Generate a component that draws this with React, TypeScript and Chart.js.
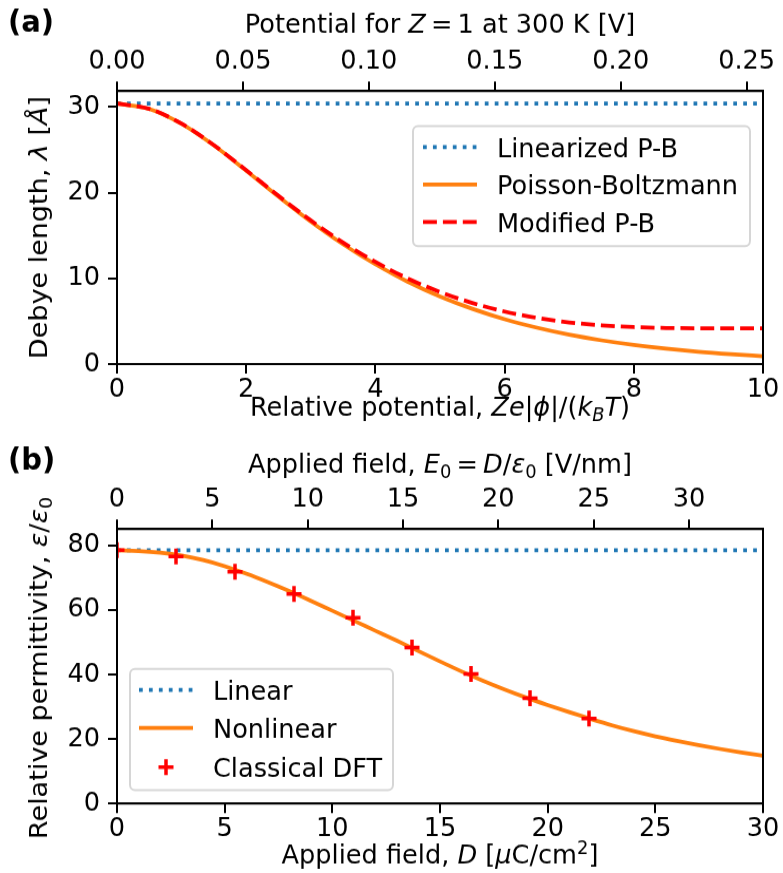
import React, { useEffect, useRef } from 'react';
import { Chart, registerables } from 'chart.js';

Chart.register(...registerables);

const FONT = "'DejaVu Sans'";
const FS = 25.6;

// ---------- Panel (a) data ----------
const PHI = [0, 0.5, 1, 1.5, 2, 2.5, 3, 3.5, 4, 4.5, 5, 5.5, 6, 6.5, 7, 7.5, 8, 8.5, 9, 9.5, 10];
const LAMBDA_PB = [30.4, 29.78, 28.04, 25.52, 22.57, 19.54, 16.63, 13.98, 11.64, 9.61, 7.89, 6.45, 5.24, 4.25, 3.43, 2.77, 2.23, 1.79, 1.43, 1.15, 0.92];
const LAMBDA_MPB = [30.4, 29.79, 28.06, 25.55, 22.63, 19.63, 16.77, 14.18, 11.92, 9.99, 8.41, 7.13, 6.13, 5.39, 4.86, 4.52, 4.31, 4.21, 4.17, 4.16, 4.17];
const PHI_LIN = [0, 10];
const LAMBDA_LIN = [30.4, 30.4];
const PHI_TICKS = [0, 2, 4, 6, 8, 10];
const LAMBDA_TICKS = [0, 10, 20, 30];
const VOLT_TICKS = [0, 0.05, 0.1, 0.15, 0.2, 0.25];
const PHI_MAX = 10;
const VOLT_MAX = 0.2565;
const LAMBDA_MAX = 31.87;

// ---------- Panel (b) data ----------
const D_FIELD = [0, 1, 2, 3, 4, 5, 6, 7, 8, 9, 10, 11, 12, 13, 14, 15, 16, 17, 18, 19, 20, 21, 22, 23, 24, 25, 26, 27, 28, 29, 30];
const EPS_NL = [78.4, 78.2, 77.7, 76.8, 75.4, 73.5, 71.2, 68.6, 65.8, 62.8, 59.7, 56.6, 53.5, 50.4, 47.2, 44.0, 40.9, 38.0, 35.3, 32.8, 30.5, 28.3, 26.2, 24.2, 22.4, 20.8, 19.4, 18.1, 16.9, 15.8, 14.8];
const D_LIN = [0, 30];
const EPS_LIN = [78.4, 78.4];
const D_DFT = [0, 2.74, 5.48, 8.22, 10.96, 13.7, 16.44, 19.18, 21.92];
const EPS_DFT = [78.5, 76.5, 71.8, 64.9, 57.5, 48.3, 40.1, 32.6, 26.3];
const D_TICKS = [0, 5, 10, 15, 20, 25, 30];
const EPS_TICKS = [0, 20, 40, 60, 80];
const E0_TICKS = [0, 5, 10, 15, 20, 25, 30];
const D_MAX = 30;
const E0_MAX = 33.88;
const EPS_MAX = 85;

const BLUE = '#1f77b4';
const ORANGE = '#ff7f0e';
const RED = '#ff0000';
const DOT = [3.75, 6.19];
const DASH = [13.9, 6];

type Seg = { t: string; it?: boolean; sub?: boolean; sup?: boolean };

const pts = (xs: number[], ys: number[]) => xs.map((x, i) => ({ x, y: ys[i] }));

function segFont(s: Seg, size: number) {
  const sz = s.sub || s.sup ? size * 0.7 : size;
  return `${s.it ? 'italic ' : ''}${sz}px ${FONT}`;
}

function drawRich(ctx: CanvasRenderingContext2D, segs: Seg[], x: number, y: number, size: number, rotate: boolean) {
  ctx.save();
  let total = 0;
  for (const s of segs) {
    ctx.font = segFont(s, size);
    total += ctx.measureText(s.t).width;
  }
  ctx.translate(x, y);
  if (rotate) ctx.rotate(-Math.PI / 2);
  ctx.textAlign = 'left';
  ctx.textBaseline = 'alphabetic';
  ctx.fillStyle = '#000';
  let cx = -total / 2;
  for (const s of segs) {
    ctx.font = segFont(s, size);
    const dy = s.sub ? size * 0.2 : s.sup ? -size * 0.38 : 0;
    ctx.fillText(s.t, cx, dy);
    cx += ctx.measureText(s.t).width;
  }
  ctx.restore();
}

type LegendRow = { label: string; kind: 'line' | 'cross'; color: string; dash?: number[] };
type LegendSpec = { x: number; y: number; w: number; h: number; hx0: number; hx1: number; tx: number; rowsY: number[]; rows: LegendRow[] };

function drawLegend(ctx: CanvasRenderingContext2D, L: LegendSpec, Y: (v: number) => number) {
  ctx.save();
  const r = 5;
  const top = Y(L.y);
  const bot = Y(L.y + L.h);
  const x0 = L.x;
  const x1 = L.x + L.w;
  ctx.beginPath();
  ctx.moveTo(x0 + r, top);
  ctx.lineTo(x1 - r, top);
  ctx.arcTo(x1, top, x1, top + r, r);
  ctx.lineTo(x1, bot - r);
  ctx.arcTo(x1, bot, x1 - r, bot, r);
  ctx.lineTo(x0 + r, bot);
  ctx.arcTo(x0, bot, x0, bot - r, r);
  ctx.lineTo(x0, top + r);
  ctx.arcTo(x0, top, x0 + r, top, r);
  ctx.closePath();
  ctx.fillStyle = 'rgba(255,255,255,0.8)';
  ctx.fill();
  ctx.setLineDash([]);
  ctx.lineWidth = 2;
  ctx.strokeStyle = 'rgba(204,204,204,0.8)';
  ctx.stroke();
  L.rows.forEach((row, i) => {
    const ry = Y(L.rowsY[i]);
    if (row.kind === 'line') {
      ctx.beginPath();
      ctx.setLineDash(row.dash || []);
      ctx.lineCap = 'butt';
      ctx.strokeStyle = row.color;
      ctx.lineWidth = 3.75;
      ctx.moveTo(L.hx0, ry);
      ctx.lineTo(L.hx1, ry);
      ctx.stroke();
    } else {
      const cx = (L.hx0 + L.hx1) / 2;
      ctx.beginPath();
      ctx.setLineDash([]);
      ctx.strokeStyle = row.color;
      ctx.lineWidth = 3.5;
      ctx.moveTo(cx - 7.5, ry);
      ctx.lineTo(cx + 7.5, ry);
      ctx.moveTo(cx, ry - 7.5);
      ctx.lineTo(cx, ry + 7.5);
      ctx.stroke();
    }
    ctx.setLineDash([]);
    ctx.fillStyle = '#000';
    ctx.font = `${FS}px ${FONT}`;
    ctx.textAlign = 'left';
    ctx.textBaseline = 'alphabetic';
    ctx.fillText(row.label, L.tx, ry + FS * 0.364);
  });
  ctx.restore();
}

type Panel = {
  name: string;
  canvasTop: number;
  displayH: number;
  internalH: number;
  plotTop: number;
  plotBottom: number;
  xMax: number;
  yMax: number;
  topMax: number;
  xTicks: number[];
  yTicks: number[];
  topTicks: number[];
  topFmt: (v: number) => string;
  datasets: any[];
  legend: LegendSpec;
  tag: string;
  tagY: number;
  topTitle: Seg[];
  topTitleY: number;
  bottomTitle: Seg[];
  bottomTitleY: number;
  yTitle: Seg[];
  yTitleX: number;
  yTitleY: number;
};

function axis(ticksArr: number[], fmt: (v: number) => string, pad: number) {
  return {
    type: 'linear',
    grid: {
      display: true,
      drawOnChartArea: false,
      drawTicks: true,
      tickLength: 9,
      tickWidth: 2,
      tickColor: '#000',
      color: '#000',
      lineWidth: 2,
    },
    border: { display: true, color: '#000', width: 2 },
    ticks: {
      font: { family: FONT, size: FS },
      color: '#000',
      padding: pad,
      maxRotation: 0,
      minRotation: 0,
      autoSkip: false,
      callback: (v: any) => fmt(Number(v)),
    },
    afterBuildTicks: (s: any) => {
      s.ticks = ticksArr.map((v) => ({ value: v }));
    },
  };
}

const fmtInt = (v: number) => String(Math.round(v));
const fmt2 = (v: number) => v.toFixed(2);

function buildConfig(p: Panel): any {
  const k = p.displayH / p.internalH;
  const Y = (refY: number) => (refY - p.canvasTop) / k;
  const plugin = {
    id: 'panel_' + p.name,
    afterDatasetsDraw(chart: any) {
      const { ctx, chartArea: a } = chart;
      ctx.save();
      ctx.setLineDash([]);
      ctx.strokeStyle = '#000';
      ctx.lineWidth = 2;
      ctx.strokeRect(a.left, a.top, a.right - a.left, a.bottom - a.top);
      ctx.restore();
      drawLegend(ctx, p.legend, Y);
    },
    afterDraw(chart: any) {
      const { ctx, chartArea: a } = chart;
      const cx = (a.left + a.right) / 2;
      drawRich(ctx, p.topTitle, cx, Y(p.topTitleY), FS, false);
      drawRich(ctx, p.bottomTitle, cx, Y(p.bottomTitleY), FS, false);
      drawRich(ctx, p.yTitle, p.yTitleX, Y(p.yTitleY), FS, true);
      ctx.save();
      ctx.fillStyle = '#000';
      ctx.font = `bold 29px ${FONT}`;
      ctx.textAlign = 'left';
      ctx.textBaseline = 'alphabetic';
      ctx.fillText(p.tag, 8, Y(p.tagY));
      ctx.restore();
    },
  };
  return {
    type: 'line',
    data: { datasets: p.datasets },
    options: {
      responsive: false,
      animation: false,
      devicePixelRatio: 1,
      events: [],
      layout: { padding: { left: 0, right: 20, top: 0, bottom: 0 } },
      plugins: { legend: { display: false }, tooltip: { enabled: false }, title: { display: false } },
      scales: {
        x: {
          ...axis(p.xTicks, fmtInt, 0),
          position: 'bottom',
          min: 0,
          max: p.xMax,
          afterFit: (s: any) => {
            s.height = p.internalH - Y(p.plotBottom);
          },
        },
        xTop: {
          ...axis(p.topTicks, p.topFmt, 4),
          position: 'top',
          min: 0,
          max: p.topMax,
          afterFit: (s: any) => {
            s.height = Y(p.plotTop);
          },
        },
        y: {
          ...axis(p.yTicks, fmtInt, 8),
          position: 'left',
          min: 0,
          max: p.yMax,
          afterFit: (s: any) => {
            s.width = 117;
          },
        },
      },
    },
    plugins: [plugin],
  };
}

function lineDs(label: string, data: any[], color: string, dash: number[], order: number) {
  return {
    label,
    data,
    xAxisID: 'x',
    yAxisID: 'y',
    borderColor: color,
    backgroundColor: color,
    borderWidth: 3.75,
    borderDash: dash,
    borderCapStyle: 'butt',
    pointRadius: 0,
    fill: false,
    cubicInterpolationMode: 'monotone',
    clip: 0,
    order,
  };
}

const A_INTERNAL_H = 417;
const B_INTERNAL_H = 410;

export default function App() {
  const ref1 = useRef<HTMLCanvasElement>(null);
  const ref2 = useRef<HTMLCanvasElement>(null);

  useEffect(() => {
    const panelA: Panel = {
      name: 'a',
      canvasTop: 0,
      displayH: 440,
      internalH: A_INTERNAL_H,
      plotTop: 91,
      plotBottom: 364,
      xMax: PHI_MAX,
      yMax: LAMBDA_MAX,
      topMax: VOLT_MAX,
      xTicks: PHI_TICKS,
      yTicks: LAMBDA_TICKS,
      topTicks: VOLT_TICKS,
      topFmt: fmt2,
      datasets: [
        lineDs('Linearized P-B', pts(PHI_LIN, LAMBDA_LIN), BLUE, DOT, 2),
        lineDs('Poisson-Boltzmann', pts(PHI, LAMBDA_PB), ORANGE, [], 1),
        lineDs('Modified P-B', pts(PHI, LAMBDA_MPB), RED, DASH, 0),
      ],
      legend: {
        x: 413, y: 126, w: 337, h: 120,
        hx0: 423, hx1: 477, tx: 497,
        rowsY: [147, 184.5, 222],
        rows: [
          { label: 'Linearized P-B', kind: 'line', color: BLUE, dash: DOT },
          { label: 'Poisson-Boltzmann', kind: 'line', color: ORANGE, dash: [] },
          { label: 'Modified P-B', kind: 'line', color: RED, dash: DASH },
        ],
      },
      tag: '(a)',
      tagY: 32,
      topTitle: [{ t: 'Potential for ' }, { t: 'Z', it: true }, { t: '\u2009=\u20091' }, { t: ' at 300 K [V]' }],
      topTitleY: 33,
      bottomTitle: [
        { t: 'Relative potential, ' },
        { t: 'Ze', it: true },
        { t: '|' },
        { t: '\u03d5', it: true },
        { t: '|/(' },
        { t: 'k', it: true },
        { t: 'B', it: true, sub: true },
        { t: 'T', it: true },
        { t: ')' },
      ],
      bottomTitleY: 416,
      yTitle: [{ t: 'Debye length, ' }, { t: '\u03bb', it: true }, { t: ' [' }, { t: '\u00c5', it: true }, { t: ']' }],
      yTitleX: 46.5,
      yTitleY: 227.5,
    };

    const panelB: Panel = {
      name: 'b',
      canvasTop: 440,
      displayH: 433,
      internalH: B_INTERNAL_H,
      plotTop: 529,
      plotBottom: 803.5,
      xMax: D_MAX,
      yMax: EPS_MAX,
      topMax: E0_MAX,
      xTicks: D_TICKS,
      yTicks: EPS_TICKS,
      topTicks: E0_TICKS,
      topFmt: fmtInt,
      datasets: [
        lineDs('Linear', pts(D_LIN, EPS_LIN), BLUE, DOT, 2),
        lineDs('Nonlinear', pts(D_FIELD, EPS_NL), ORANGE, [], 1),
        {
          label: 'Classical DFT',
          data: pts(D_DFT, EPS_DFT),
          xAxisID: 'x',
          yAxisID: 'y',
          showLine: false,
          pointStyle: 'cross',
          pointRadius: 7.5,
          pointBorderWidth: 3.5,
          pointBorderColor: RED,
          pointBackgroundColor: RED,
          borderColor: RED,
          clip: 0,
          order: 0,
        },
      ],
      legend: {
        x: 130, y: 669, w: 263, h: 121,
        hx0: 139, hx1: 193, tx: 213,
        rowsY: [690, 728, 767],
        rows: [
          { label: 'Linear', kind: 'line', color: BLUE, dash: DOT },
          { label: 'Nonlinear', kind: 'line', color: ORANGE, dash: [] },
          { label: 'Classical DFT', kind: 'cross', color: RED },
        ],
      },
      tag: '(b)',
      tagY: 470,
      topTitle: [
        { t: 'Applied field, ' },
        { t: 'E', it: true },
        { t: '0', sub: true },
        { t: '\u2009=\u2009' },
        { t: 'D', it: true },
        { t: '/' },
        { t: '\u03b5', it: true },
        { t: '0', sub: true },
        { t: ' [V/nm]' },
      ],
      topTitleY: 473,
      bottomTitle: [
        { t: 'Applied field, ' },
        { t: 'D', it: true },
        { t: ' [' },
        { t: '\u03bc', it: true },
        { t: 'C/cm' },
        { t: '2', sup: true },
        { t: ']' },
      ],
      bottomTitleY: 864,
      yTitle: [{ t: 'Relative permittivity, ' }, { t: '\u03b5', it: true }, { t: '/' }, { t: '\u03b5', it: true }, { t: '0', sub: true }],
      yTitleX: 46.5,
      yTitleY: 668,
    };

    const c1 = new Chart(ref1.current as HTMLCanvasElement, buildConfig(panelA));
    const c2 = new Chart(ref2.current as HTMLCanvasElement, buildConfig(panelB));
    return () => {
      c1.destroy();
      c2.destroy();
    };
  }, []);

  return (
    <div style={{ position: 'absolute', left: 0, top: 0, width: 783, height: 873, background: '#fff', overflow: 'hidden' }}>
      <canvas ref={ref1} width={783} height={A_INTERNAL_H} style={{ position: 'absolute', left: 0, top: 0, width: 783, height: 440 }} />
      <canvas ref={ref2} width={783} height={B_INTERNAL_H} style={{ position: 'absolute', left: 0, top: 440, width: 783, height: 433 }} />
    </div>
  );
}
